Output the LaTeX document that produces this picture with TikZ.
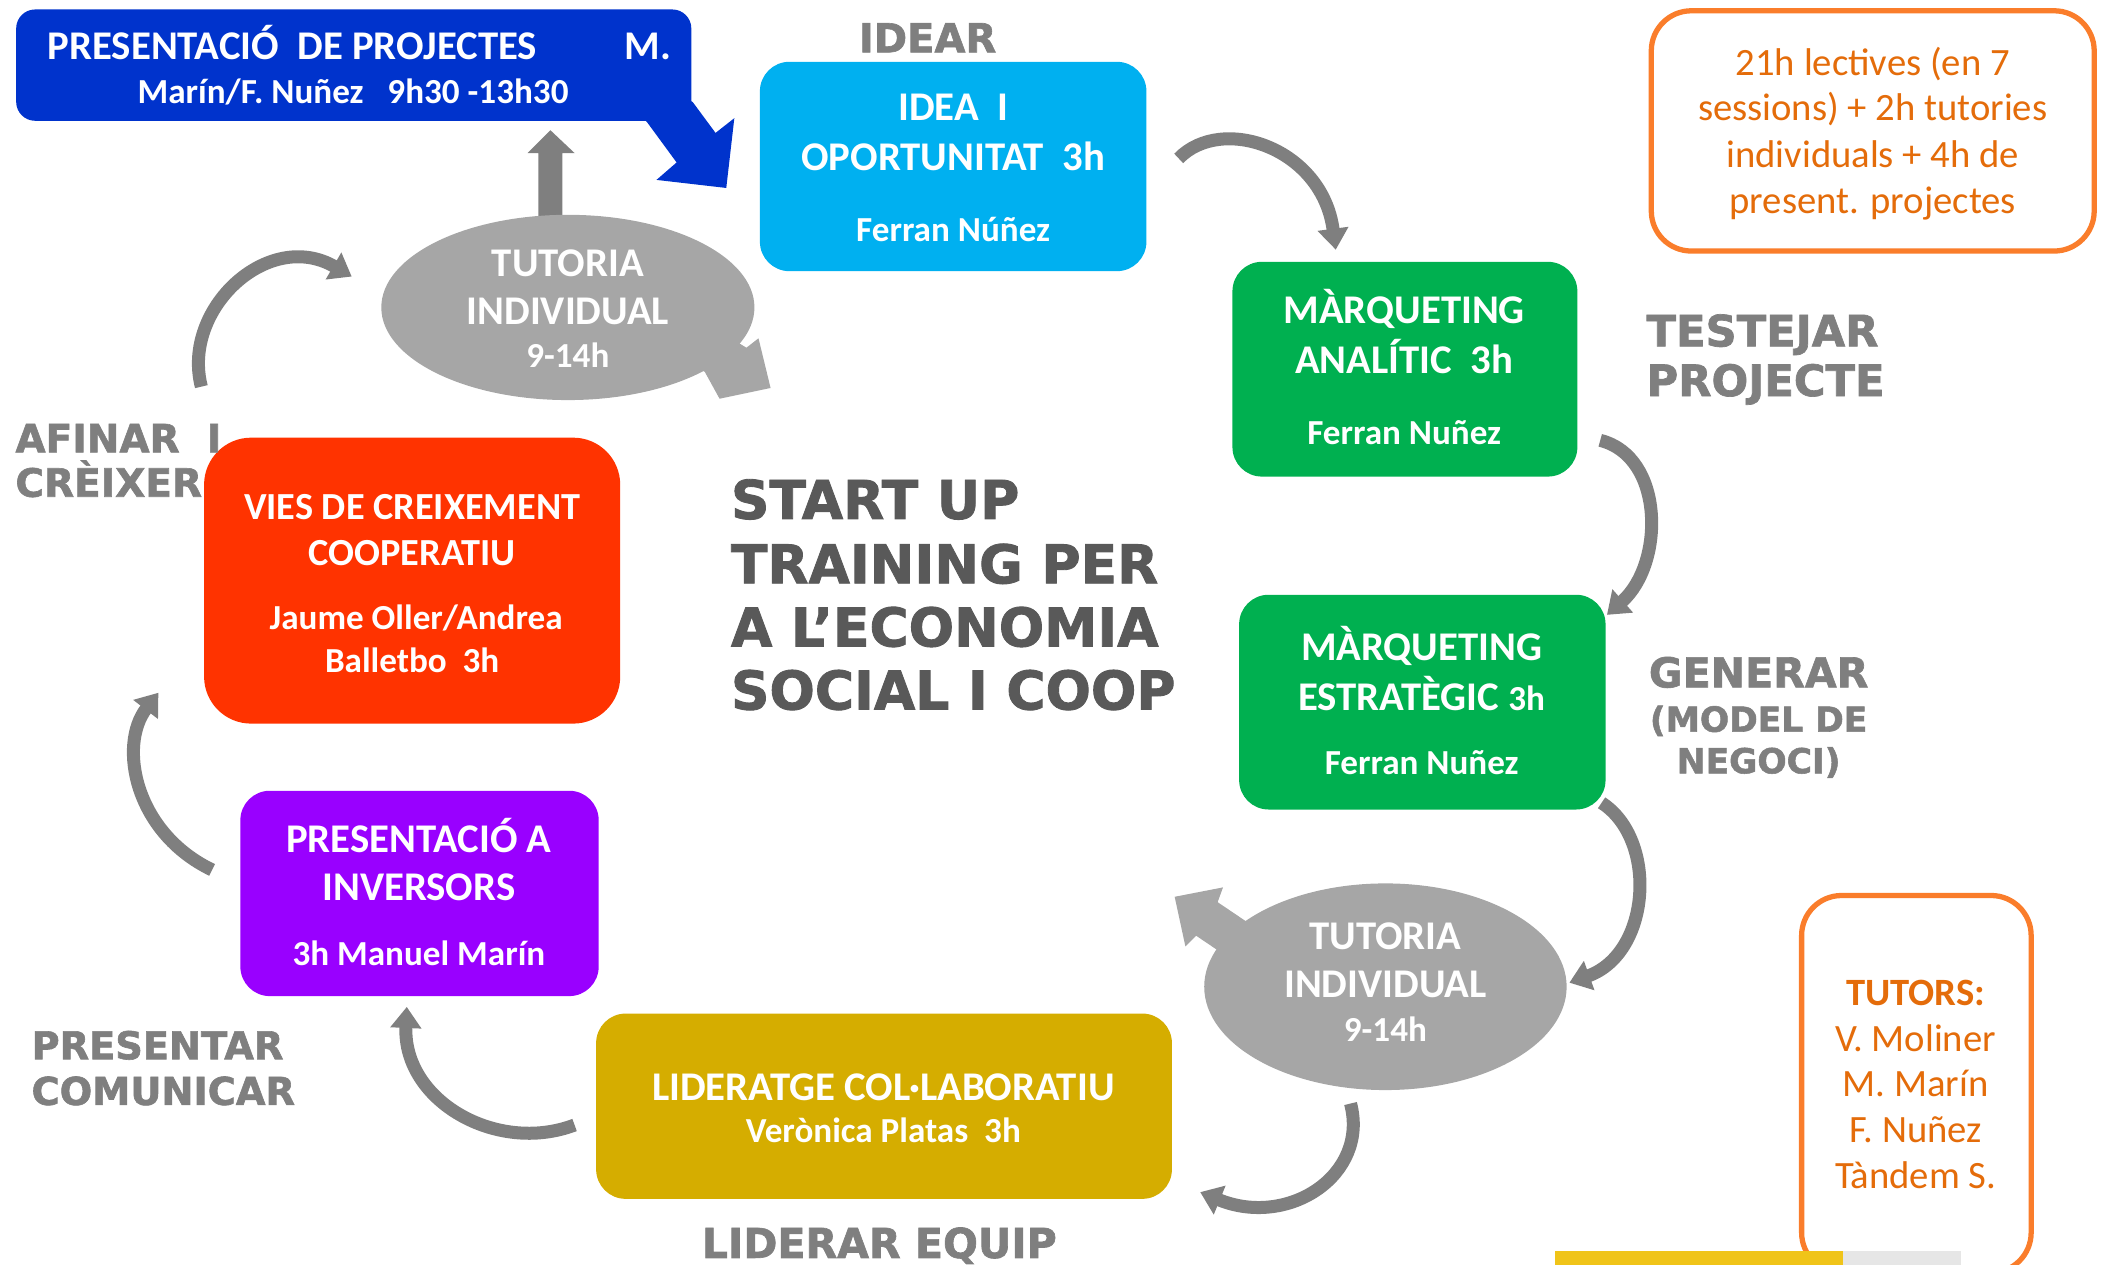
\documentclass[tikz,border=0pt]{standalone}
\usepackage{fontspec}
\setmainfont{Carlito}
\newfontfamily\heavyfont{DejaVu Sans}[BoldFeatures={FakeBold=1.6}]
\usetikzlibrary{arrows.meta,shapes.geometric}
\definecolor{cblue}{HTML}{0033CC}
\definecolor{ccyan}{HTML}{00B0F0}
\definecolor{cgreen}{HTML}{00B050}
\definecolor{cred}{HTML}{FF3300}
\definecolor{cpurple}{HTML}{9900FF}
\definecolor{cgold}{HTML}{D5AD00}
\definecolor{egray}{HTML}{A6A6A6}
\definecolor{arrgray}{HTML}{7F7F7F}
\definecolor{arrdark}{HTML}{6E6E6E}
\definecolor{labgray}{HTML}{7F7F7F}
\definecolor{titlegray}{HTML}{595959}
\definecolor{oline}{HTML}{FA7D2B}
\definecolor{otext}{HTML}{E46C0A}
\definecolor{barYellow}{HTML}{F0C419}
\definecolor{barGray}{HTML}{E6E6E6}
\newcommand\bxt{\fontsize{11.6}{14}\selectfont\bfseries}
\newcommand\bxn{\fontsize{10}{12}\selectfont\bfseries}
\begin{document}
\begin{tikzpicture}[x=0.013425cm,y=-0.013425cm,
  box/.style={rounded corners=0.295cm, inner sep=0pt, outer sep=0pt},
  tl/.style={anchor=base, inner sep=0pt, text=white, font=\bxt},
  tn/.style={anchor=base, inner sep=0pt, text=white, font=\bxn},
  gl/.style={anchor=base west, inner sep=0pt, text=labgray},
  gc/.style={anchor=base, inner sep=0pt, text=labgray},
  carrow/.style={draw=arrgray, line width=3.7pt, -{Triangle[width=8.5pt,length=6pt]}},
  ccore/.style={draw=arrdark, line width=1.3pt},
  tutell/.style={ellipse, fill=egray, inner sep=0pt, outer sep=0pt},
  obox/.style={draw=oline, line width=1.5pt, rounded corners=0.4cm, inner sep=0pt, fill=white},
  ot/.style={anchor=base, inner sep=0pt, text=otext, font=\fontsize{11}{13}\selectfont}]
\useasboundingbox (0,0) rectangle (1568,942);

% ---------- blue presentation box with tail ----------
\node[box, rounded corners=0.19cm, fill=cblue, minimum width=6.753cm, minimum height=1.114cm] (pres) at (263.5,48.5) {};
\fill[cblue] (470,80) -- (482,91) -- (504,121) -- (489,134) -- (541,140) -- (547,88) -- (533,99) -- (516,76) -- (505,70) -- cycle;
\node[tl, anchor=base west] (pres1) at (35,44) {PRESENTACIÓ\ \ DE PROJECTES};
\node[tl, anchor=base west] (pres1b) at (465,44) {M.};
\node[tn] (pres2) at (263,77) {Marín/F. Nuñez\ \ \ 9h30 -13h30};

% ---------- gray up arrow ----------
\fill[arrgray] (401,165) -- (401,114) -- (393,114) -- (410,97) -- (428,114) -- (419,114) -- (419,165) -- cycle;

% ---------- tutoria 1 ----------
\fill[egray] (522,238) -- (556,259) -- (565,252) -- (574,289) -- (536,297) -- (525,277) -- (491,256) -- cycle;
\node[tutell, minimum width=3.732cm, minimum height=1.853cm] (tut1) at (423,229) {};
\node[tl] (tut1a) at (423,206) {TUTORIA};
\node[tl] (tut1b) at (423,242) {INDIVIDUAL};
\node[tn] (tut1c) at (423,274) {9-14h};

% ---------- idea box ----------
\node[gc, font=\heavyfont\bfseries\fontsize{11.4}{13}\selectfont] (idear) at (691,39) {IDEAR};
\node[box, fill=ccyan, minimum width=3.866cm, minimum height=2.094cm] (idea) at (710,124) {};
\node[tl] (idea1) at (710,90) {IDEA\ \ I};
\node[tl] (idea2) at (710,127) {OPORTUNITAT\ \ 3h};
\node[tn] (idea3) at (710,180) {Ferran Núñez};

% ---------- orange info box ----------
\node[obox, minimum width=4.43cm, minimum height=2.403cm] (info) at (1395,97.5) {};
\node[ot] (info1) at (1395,56) {21h lectives (en 7};
\node[ot] (info2) at (1395,90) {sessions) + 2h tutories};
\node[ot] (info3) at (1395,125) {individuals + 4h de};
\node[ot] (info4) at (1395,159) {present. projectes};

% ---------- marqueting analitic ----------
\node[box, fill=cgreen, minimum width=3.45cm, minimum height=2.148cm] (ma) at (1046.5,275) {};
\node[tl] (ma1) at (1046,241) {MÀRQUETING};
\node[tl] (ma2) at (1046,278) {ANALÍTIC\ \ 3h};
\node[tn] (ma3) at (1046,331) {Ferran Nuñez};
\node[gl, font=\heavyfont\bfseries\fontsize{12.3}{14}\selectfont] (test1) at (1226,258) {TESTEJAR};
\node[gl, font=\heavyfont\bfseries\fontsize{12.3}{14}\selectfont] (test2) at (1226,295) {PROJECTE};

% ---------- marqueting estrategic ----------
\node[box, fill=cgreen, minimum width=3.665cm, minimum height=2.148cm] (me) at (1059.5,523) {};
\node[tl] (me1) at (1059,492) {MÀRQUETING};
\node[tl] (me2) at (1059,529) {ESTRATÈGIC {\fontsize{10}{12}\selectfont 3h}};
\node[tn] (me3) at (1059,577) {Ferran Nuñez};
\node[gc, font=\heavyfont\bfseries\fontsize{11.7}{14}\selectfont] (gen1) at (1310,512) {GENERAR};
\node[gc, font=\heavyfont\bfseries\fontsize{9.8}{12}\selectfont] (gen2) at (1310,545) {(MODEL DE};
\node[gc, font=\heavyfont\bfseries\fontsize{9.8}{12}\selectfont] (gen3) at (1310,576) {NEGOCI)};

% ---------- tutoria 2 ----------
\fill[egray] (947,699) -- (907,672) -- (911,661) -- (875,668) -- (883,705) -- (891,697) -- (931,724) -- cycle;
\node[tutell, minimum width=3.625cm, minimum height=2.067cm] (tut2) at (1032,735) {};
\node[tl] (tut2a) at (1032,707) {TUTORIA};
\node[tl] (tut2b) at (1032,743) {INDIVIDUAL};
\node[tn] (tut2c) at (1032,776) {9-14h};

% ---------- lideratge ----------
\node[box, fill=cgold, minimum width=5.759cm, minimum height=1.853cm] (lid) at (658.5,824) {};
\node[tl] (lid1) at (658,820) {LIDERATGE COL·LABORATIU};
\node[tn] (lid2) at (658,851) {Verònica Platas\ \ 3h};
\node[gc, font=\heavyfont\bfseries\fontsize{11.7}{14}\selectfont] (lidlab) at (655,937) {LIDERAR EQUIP};

% ---------- inversors ----------
\node[box, fill=cpurple, minimum width=3.584cm, minimum height=2.054cm] (inv) at (312.5,665.5) {};
\node[tl] (inv1) at (312,635) {PRESENTACIÓ A};
\node[tl] (inv2) at (312,671) {INVERSORS};
\node[tn] (inv3) at (312,719) {3h Manuel Marín};
\node[gl, font=\heavyfont\bfseries\fontsize{10.9}{13}\selectfont] (prl1) at (23,789) {PRESENTAR};
\node[gl, font=\heavyfont\bfseries\fontsize{10.9}{13}\selectfont] (prl2) at (23,823) {COMUNICAR};

% ---------- vies de creixement ----------
\node[box, rounded corners=0.47cm, fill=cred, minimum width=4.162cm, minimum height=2.86cm] (vies) at (307,432.5) {};
\node[tl, font=\fontsize{10.9}{13}\selectfont\bfseries] (vies1) at (307,387) {VIES DE CREIXEMENT};
\node[tl, font=\fontsize{10.9}{13}\selectfont\bfseries] (vies2) at (307,421) {COOPERATIU};
\node[tn] (vies3) at (310,469) {Jaume Oller/Andrea};
\node[tn] (vies4) at (307,501) {Balletbo\ \ 3h};
\node[gl, font=\heavyfont\bfseries\fontsize{11.1}{13}\selectfont] (af1) at (11,337) {AFINAR\ \ I};
\node[gl, font=\heavyfont\bfseries\fontsize{11.1}{13}\selectfont] (af2) at (11,370) {CRÈIXER};

% ---------- central title ----------
\begin{scope}[every node/.style={anchor=base west, inner sep=0pt, text=titlegray, font=\heavyfont\bfseries\fontsize{15.2}{18}\selectfont}]
\node (ti1) at (544,386.5) {START UP};
\node (ti2) at (544,434.5) {TRAINING PER};
\node (ti3) at (544,481.5) {A L’ECONOMIA};
\node (ti4) at (544,528.5) {SOCIAL I COOP};
\end{scope}

% ---------- tutors box and bottom bar ----------
\node[obox, minimum width=2.296cm, minimum height=3.772cm] (tutors) at (1427.5,807.5) {};
\node[ot, font=\fontsize{11}{13}\selectfont\bfseries] (tu0) at (1427,749) {TUTORS:};
\node[ot] (tu1) at (1427,783) {V. Moliner};
\node[ot] (tu2) at (1427,817) {M. Marín};
\node[ot] (tu3) at (1427,851) {F. Nuñez};
\node[ot] (tu4) at (1427,885) {Tàndem S.};
\fill[barYellow] (1158,932) rectangle (1373,942);
\fill[barGray] (1373,932) rectangle (1461,942);

% ---------- curved arrows ----------
\coordinate (a1s) at (878,118);  \coordinate (a1e) at (995,186);
\coordinate (a2s) at (1192,328); \coordinate (a2e) at (1197,458);
\coordinate (a3s) at (1193,598); \coordinate (a3e) at (1169,732);
\coordinate (a4s) at (1006,822); \coordinate (a4e) at (894,888);
\coordinate (a5s) at (428,838);  \coordinate (a5e) at (303,750);
\coordinate (a6s) at (158,648);  \coordinate (a6e) at (118,516);
\coordinate (a7s) at (150,288);  \coordinate (a7e) at (262,206);
\draw[carrow] (a1s) .. controls (910,85) and (985,110) .. (a1e);
\draw[carrow] (a2s) .. controls (1240,340) and (1240,420) .. (a2e);
\draw[carrow] (a3s) .. controls (1235,625) and (1230,710) .. (a3e);
\draw[carrow] (a4s) .. controls (1020,875) and (960,915) .. (a4e);
\draw[carrow] (a5s) .. controls (370,860) and (300,820) .. (a5e);
\draw[carrow] (a6s) .. controls (100,620) and (88,555) .. (a6e);
\draw[carrow] (a7s) .. controls (135,230) and (200,170) .. (a7e);
\end{tikzpicture}
\end{document}
